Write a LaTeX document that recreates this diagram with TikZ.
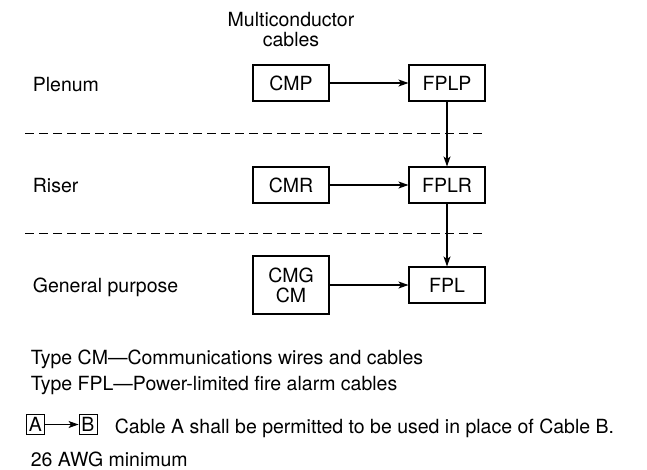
\documentclass[tikz,border=0pt]{standalone}
\usepackage{fontspec}
\setmainfont{TeX Gyre Heros}
\usetikzlibrary{arrows.meta}

\begin{document}
\begin{tikzpicture}[x=1pt,y=-1pt,line width=1.1pt, every node/.style={font=\fontsize{19.5}{20}\selectfont}]
	\tikzstyle{cablebox} = [draw, minimum width=76pt, minimum height=36pt, inner sep=0pt]
	\tikzstyle{legbox} = [draw, line width=0.9pt, minimum width=18pt, minimum height=20pt, inner sep=0pt]
	\tikzstyle{myedgestyle} = [-{Stealth[length=10pt,width=7pt,inset=2.5pt]}]
	\tikzstyle{floorline} = [dash pattern=on 9pt off 5pt, line width=0.8pt]
	
	\useasboundingbox (0,0) rectangle (647,469);
	
	\node [align=center, inner sep=0pt] (Head) at (291,29.5) {Multiconductor\\cables};
	
	\node [anchor=base west] (Plenum) at (29,91) {Plenum};
	\node [anchor=base west] (Riser) at (29,192) {Riser};
	\node [anchor=base west] (General) at (29,292) {General purpose};
	
	\node [cablebox] (CMP) at (291,83) {CMP};
	\node [cablebox] (FPLP) at (447,83) {FPLP};
	\node [cablebox] (CMR) at (291,185) {CMR};
	\node [cablebox] (FPLR) at (447,185) {FPLR};
	\node [cablebox, minimum height=58pt, align=center] (CMG) at (291,285) {CMG\\CM};
	\node [cablebox] (FPL) at (447,285) {FPL};
	
	\draw [floorline] (25,133) -- (485,133);
	\draw [floorline] (25,233) -- (485,233);
	
	\draw [myedgestyle] (CMP) -- (FPLP);
	\draw [myedgestyle] (CMR) -- (FPLR);
	\draw [myedgestyle] (CMG) -- (FPL);
	\draw [myedgestyle] (FPLP) -- (FPLR);
	\draw [myedgestyle] (FPLR) -- (FPL);
	
	\node [anchor=base west] (TypeCM) at (27,364) {Type CM---Communications wires and cables};
	\node [anchor=base west] (TypeFPL) at (27,390) {Type FPL---Power-limited fire alarm cables};
	
	\node [legbox] (LegA) at (35.5,424.5) {A};
	\node [legbox] (LegB) at (88,424.5) {B};
	\draw [myedgestyle, line width=0.9pt] (LegA) -- (LegB);
	\node [anchor=base west] (Legend) at (111,433) {Cable A shall be permitted to be used in place of Cable B.};
	
	\node [anchor=base west] (Gauge) at (27,466) {26 AWG minimum};
	
\end{tikzpicture}
\end{document}
